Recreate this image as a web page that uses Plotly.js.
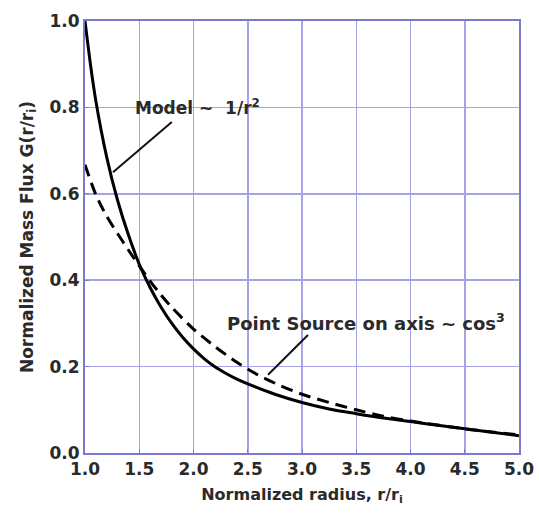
<!DOCTYPE html>
<html>
<head>
<meta charset="utf-8">
<script src="https://cdn.plot.ly/plotly-3.0.1.min.js"></script>
<style>html,body{margin:0;padding:0;background:#fff;}#chart{width:539px;height:515px;}</style>
</head>
<body>
<div id="chart"></div>
<script>
// Model ~ 1/r^2 (solid)
const modelR = [1.0, 1.05, 1.1, 1.2, 1.3, 1.4, 1.5, 1.6, 1.7, 1.8, 1.9, 2.0, 2.1, 2.2, 2.3, 2.4, 2.5, 2.75, 3.0, 3.25, 3.5, 3.75, 4.0, 4.25, 4.5, 4.75, 5.0];
const modelG = [1.0, 0.90, 0.815, 0.685, 0.585, 0.505, 0.437, 0.383, 0.338, 0.300, 0.268, 0.241, 0.218, 0.199, 0.184, 0.171, 0.160, 0.136, 0.117, 0.102, 0.091, 0.081, 0.073, 0.064, 0.056, 0.048, 0.040];
// Point source on axis ~ cos^3 (dashed)
const pointR = [1.0, 1.1, 1.2, 1.3, 1.4, 1.5, 1.6, 1.7, 1.8, 2.0, 2.2, 2.4, 2.6, 2.8, 3.0, 3.25, 3.5, 3.75, 4.0, 4.5, 5.0];
const pointG = [0.667, 0.598, 0.548, 0.508, 0.470, 0.433, 0.398, 0.366, 0.337, 0.287, 0.246, 0.210, 0.180, 0.156, 0.136, 0.117, 0.100, 0.085, 0.074, 0.056, 0.042];

const xTicks = [1.0, 1.5, 2.0, 2.5, 3.0, 3.5, 4.0, 4.5, 5.0];
const yTicks = [0.0, 0.2, 0.4, 0.6, 0.8, 1.0];

const gridCol = '#a4a4e4';
const axisCol = '#7a7ad0';
const FAM = 'DejaVu Sans, Liberation Sans, Arial, sans-serif';
const txtCol = '#2a2a2a';

const traces = [
  {x: modelR, y: modelG, mode: 'lines', line: {color: '#000', width: 3, shape: 'spline', smoothing: 0.8}, hoverinfo: 'skip'},
  {x: pointR, y: pointG, mode: 'lines', line: {color: '#000', width: 3, dash: '12px,7px', shape: 'spline', smoothing: 0.8}, hoverinfo: 'skip'}
];

const layout = {
  width: 539, height: 515,
  margin: {l: 85, r: 20, t: 21, b: 62},
  paper_bgcolor: '#fff', plot_bgcolor: '#fff',
  showlegend: false,
  font: {family: FAM, size: 16, color: txtCol},
  xaxis: {
    range: [1, 5], tickvals: xTicks, ticktext: xTicks.map(v => v.toFixed(1)),
    showgrid: true, gridcolor: gridCol, gridwidth: 1.5,
    showline: true, linecolor: axisCol, linewidth: 2, mirror: true,
    ticks: 'inside', ticklen: 4, tickcolor: axisCol,
    zeroline: false,
    tickfont: {family: FAM, size: 17, color: txtCol, weight: 'bold'},
    title: {text: 'Normalized radius, r/r<sub>i</sub>', font: {family: FAM, size: 16, color: txtCol, weight: 'bold'}, standoff: 10}
  },
  yaxis: {
    range: [0, 1], tickvals: yTicks, ticktext: yTicks.map(v => v.toFixed(1)),
    showgrid: true, gridcolor: gridCol, gridwidth: 1.5,
    showline: true, linecolor: axisCol, linewidth: 2, mirror: true,
    ticks: 'inside', ticklen: 4, tickcolor: axisCol,
    zeroline: false,
    tickfont: {family: FAM, size: 17, color: txtCol, weight: 'bold'},
    title: {text: 'Normalized Mass Flux G(r/r<sub>i</sub>)', font: {family: FAM, size: 17, color: txtCol, weight: 'bold'}, standoff: 12}
  },
  annotations: [
    {x: 2.04, y: 0.80, xref: 'x', yref: 'y', text: 'Model ~  1/r<sup>2</sup>', showarrow: false, font: {family: FAM, size: 17, color: txtCol, weight: 'bold'}},
    {x: 3.59, y: 0.303, xref: 'x', yref: 'y', text: 'Point Source on axis ~ cos<sup>3</sup>', showarrow: false, font: {family: FAM, size: 18, color: txtCol, weight: 'bold'}}
  ],
  shapes: [
    {type: 'line', xref: 'x', yref: 'y', x0: 1.80, y0: 0.766, x1: 1.258, y1: 0.650, line: {color: '#111', width: 2}},
    {type: 'line', xref: 'x', yref: 'y', x0: 3.055, y0: 0.273, x1: 2.687, y1: 0.181, line: {color: '#111', width: 2}}
  ]
};

Plotly.newPlot('chart', traces, layout, {staticPlot: true, displayModeBar: false});
</script>
</body>
</html>
